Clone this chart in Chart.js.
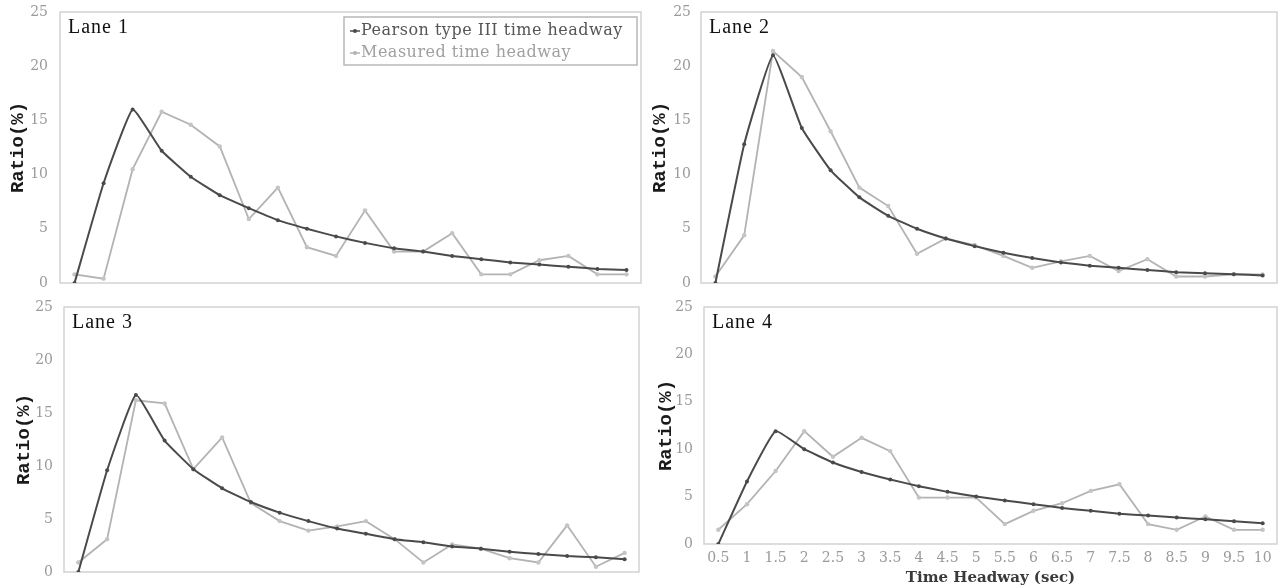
<!DOCTYPE html>
<html>
<head>
<meta charset="utf-8">
<title>Time headway distribution by lane</title>
<script src="https://cdn.jsdelivr.net/npm/chart.js@4.4.0/dist/chart.umd.min.js"></script>
<style>
    html, body { margin: 0; padding: 0; background: #fff; }
    body { width: 1281px; height: 587px; position: relative; overflow: hidden; }
    canvas { position: absolute; }
</style>
</head>
<body>
<canvas id="lane1" width="645" height="295" style="left:0;top:0"></canvas>
<canvas id="lane2" width="636" height="295" style="left:645px;top:0"></canvas>
<canvas id="lane3" width="645" height="292" style="left:0;top:295px"></canvas>
<canvas id="lane4" width="636" height="292" style="left:645px;top:295px"></canvas>
<script>
// Data
const headways = ['0.5', '1', '1.5', '2', '2.5', '3', '3.5', '4', '4.5', '5',
                  '5.5', '6', '6.5', '7', '7.5', '8', '8.5', '9', '9.5', '10'];
const ratioTicks = [0, 5, 10, 15, 20, 25];

const lane1Pearson  = [0, 9.2, 16.0, 12.2, 9.8, 8.1, 6.9, 5.8, 5.0, 4.3, 3.7, 3.2, 2.9, 2.5, 2.2, 1.9, 1.7, 1.5, 1.3, 1.2];
const lane1Measured = [0.8, 0.4, 10.5, 15.8, 14.6, 12.6, 5.9, 8.8, 3.3, 2.5, 6.7, 2.9, 2.9, 4.6, 0.8, 0.8, 2.1, 2.5, 0.8, 0.8];

const lane2Pearson  = [0, 12.8, 21.0, 14.3, 10.4, 7.9, 6.2, 5.0, 4.1, 3.4, 2.8, 2.3, 1.9, 1.6, 1.4, 1.2, 1.0, 0.9, 0.8, 0.7];
const lane2Measured = [0.6, 4.4, 21.4, 19.0, 14.0, 8.8, 7.1, 2.7, 4.1, 3.5, 2.5, 1.4, 2.0, 2.5, 1.1, 2.2, 0.6, 0.6, 0.8, 0.8];

const lane3Pearson  = [0, 9.6, 16.7, 12.4, 9.7, 7.9, 6.6, 5.6, 4.8, 4.1, 3.6, 3.1, 2.8, 2.4, 2.2, 1.9, 1.7, 1.5, 1.4, 1.2];
const lane3Measured = [0.9, 3.1, 16.2, 15.9, 9.7, 12.7, 6.5, 4.8, 3.9, 4.3, 4.8, 3.1, 0.9, 2.6, 2.2, 1.3, 0.9, 4.4, 0.5, 1.8];

const lane4Pearson  = [0, 6.6, 11.9, 10.0, 8.6, 7.6, 6.8, 6.1, 5.5, 5.0, 4.6, 4.2, 3.8, 3.5, 3.2, 3.0, 2.8, 2.6, 2.4, 2.2];
const lane4Measured = [1.5, 4.2, 7.7, 11.9, 9.2, 11.2, 9.8, 4.9, 4.9, 4.9, 2.1, 3.5, 4.3, 5.6, 6.3, 2.1, 1.5, 2.9, 1.5, 1.5];

const pearsonColor = '#4a4a4a';
const measuredColor = '#b3b3b3';

// Box, lane label and (optional) legend drawn in the plot area
const panelDecor = {
    id: 'panelDecor',
    beforeDatasetsDraw(chart) {
        const { ctx, chartArea: a } = chart;
        ctx.save();
        ctx.strokeStyle = '#d2d2d2';
        ctx.lineWidth = 1.5;
        ctx.strokeRect(a.left, a.top, a.right - a.left, a.bottom - a.top);
        ctx.restore();
    },
    afterDraw(chart, args, opts) {
        const { ctx, chartArea: a } = chart;
        ctx.save();
        ctx.fillStyle = '#111';
        ctx.font = '20px "Liberation Serif", serif';
        ctx.letterSpacing = '1px';
        ctx.textBaseline = 'middle';
        ctx.fillText(opts.lane, a.left + 8, a.top + 16);

        if (opts.legend) {
            const bx = a.left + 284, by = a.top + 5, bw = a.right - 4 - bx, bh = 48;
            ctx.strokeStyle = '#b8b8b8';
            ctx.lineWidth = 1.5;
            ctx.strokeRect(bx, by, bw, bh);
            ctx.font = '16px "DejaVu Serif", serif';
            ctx.letterSpacing = '0.5px';
            const textColors = ['#555', '#a0a0a0'];
            chart.data.datasets.forEach((ds, i) => {
                const y = by + 14 + i * 22;
                ctx.strokeStyle = ds.borderColor;
                ctx.fillStyle = ds.borderColor;
                ctx.lineWidth = 1.5;
                ctx.beginPath();
                ctx.moveTo(bx + 6, y);
                ctx.lineTo(bx + 16, y);
                ctx.stroke();
                ctx.beginPath();
                ctx.arc(bx + 11, y, 2, 0, Math.PI * 2);
                ctx.fill();
                ctx.fillStyle = textColors[i];
                ctx.fillText(ds.label, bx + 17, y);
            });
        }
        ctx.restore();
    }
};

function makePanel(id, lane, pearson, measured, layout) {
    const showX = !!layout.xTitle;
    return new Chart(document.getElementById(id), {
        type: 'line',
        data: {
            labels: headways,
            datasets: [{
                label: 'Pearson type III time headway',
                data: pearson,
                borderColor: pearsonColor,
                backgroundColor: pearsonColor,
                borderWidth: 2,
                pointRadius: 2,
                pointBorderWidth: 0,
                tension: 0.12
            }, {
                label: 'Measured time headway',
                data: measured,
                borderColor: measuredColor,
                backgroundColor: '#c4c4c4',
                borderWidth: 1.8,
                pointRadius: 2.2,
                pointBorderWidth: 0,
                tension: 0
            }]
        },
        options: {
            responsive: false,
            animation: false,
            layout: { padding: layout.padding },
            plugins: {
                legend: { display: false },
                tooltip: { enabled: false },
                panelDecor: { lane: lane, legend: !!layout.legend }
            },
            scales: {
                x: {
                    offset: true,
                    grid: { display: false, drawTicks: false },
                    border: { display: false },
                    ticks: {
                        display: showX,
                        autoSkip: false,
                        maxRotation: 0,
                        padding: 6,
                        color: '#9a9a9a',
                        font: { family: '"DejaVu Serif", serif', size: 14 }
                    },
                    title: {
                        display: showX,
                        text: layout.xTitle || '',
                        color: '#3a3a3a',
                        padding: { top: 0, bottom: 0 },
                        font: { family: '"DejaVu Serif", serif', size: 15, weight: 'bold' }
                    },
                    afterFit: scale => { scale.height = layout.xHeight; }
                },
                y: {
                    min: 0,
                    max: 25,
                    grid: { display: false, drawTicks: false },
                    border: { display: false },
                    afterBuildTicks: scale => {
                        scale.ticks = ratioTicks.map(v => ({ value: v }));
                    },
                    ticks: {
                        padding: layout.tickPad,
                        color: '#9a9a9a',
                        font: { family: '"DejaVu Serif", serif', size: 14 }
                    },
                    title: {
                        display: true,
                        text: 'Ratio(%)',
                        color: '#1a1a1a',
                        padding: { top: layout.titlePad, bottom: 0 },
                        font: { family: '"Liberation Mono", monospace', size: 19, weight: 'bold' }
                    },
                    afterFit: scale => {
                        scale.width = layout.yWidth;
                        // plot box is fixed by layout padding, not by tick label overhang
                        scale.paddingTop = 0;
                        scale.paddingBottom = 0;
                    }
                }
            }
        },
        plugins: [panelDecor]
    });
}

makePanel('lane1', 'Lane 1', lane1Pearson, lane1Measured, {
    padding: { left: 0, top: 12, right: 4, bottom: 12 },
    yWidth: 60, tickPad: 12, titlePad: 7, xHeight: 0, legend: true
});
makePanel('lane2', 'Lane 2', lane2Pearson, lane2Measured, {
    padding: { left: 0, top: 12, right: 2, bottom: 12 },
    yWidth: 56, tickPad: 10, titlePad: 4, xHeight: 0
});
makePanel('lane3', 'Lane 3', lane3Pearson, lane3Measured, {
    padding: { left: 0, top: 12, right: 6, bottom: 15 },
    yWidth: 64, tickPad: 11, titlePad: 13, xHeight: 0
});
makePanel('lane4', 'Lane 4', lane4Pearson, lane4Measured, {
    padding: { left: 0, top: 12, right: 2, bottom: 0 },
    yWidth: 59, tickPad: 11, titlePad: 10, xHeight: 43,
    xTitle: 'Time Headway (sec)'
});
</script>
</body>
</html>
